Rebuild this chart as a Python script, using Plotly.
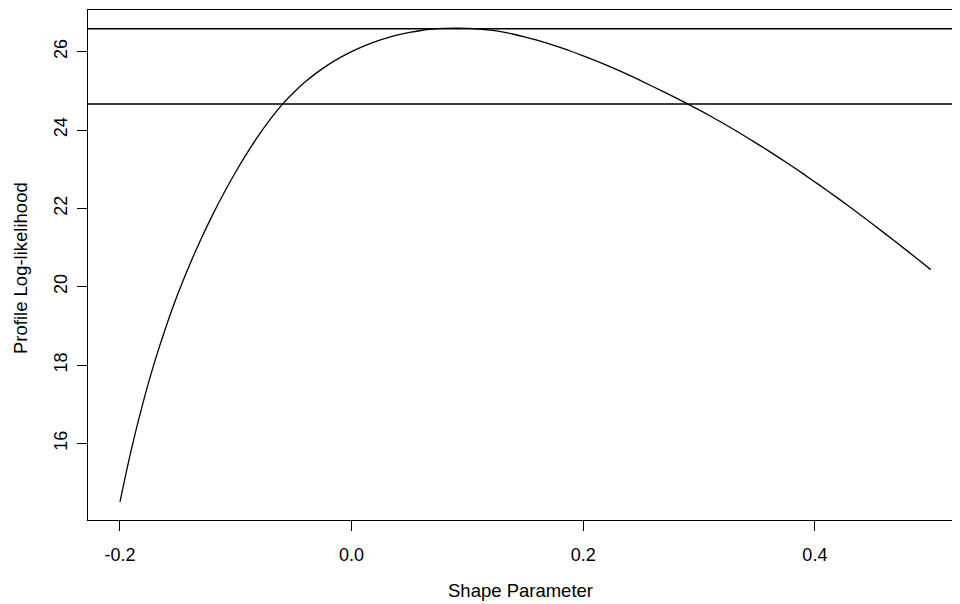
import plotly.graph_objects as go

# Profile log-likelihood curve
shape = [-0.20, -0.19, -0.18, -0.17, -0.16, -0.15, -0.14, -0.13, -0.12, -0.11,
         -0.10, -0.09, -0.08, -0.07, -0.06, -0.05, -0.04, -0.03, -0.02, -0.01,
         0.00, 0.01, 0.02, 0.03, 0.04, 0.05, 0.06, 0.07, 0.08, 0.09,
         0.10, 0.11, 0.12, 0.13, 0.14, 0.15, 0.16, 0.17, 0.18, 0.19,
         0.20, 0.21, 0.22, 0.23, 0.24, 0.25, 0.26, 0.27, 0.28, 0.29,
         0.30, 0.31, 0.32, 0.33, 0.34, 0.35, 0.36, 0.37, 0.38, 0.39,
         0.40, 0.41, 0.42, 0.43, 0.44, 0.45, 0.46, 0.47, 0.48, 0.49, 0.50]
loglik = [14.51, 15.87, 17.05, 18.09, 19.00, 19.82, 20.55, 21.22, 21.835, 22.405,
          22.935, 23.425, 23.875, 24.285, 24.65, 24.96, 25.23, 25.465, 25.67, 25.848,
          26.003, 26.137, 26.252, 26.349, 26.429, 26.493, 26.541, 26.574, 26.593, 26.598,
          26.594, 26.579, 26.548, 26.503, 26.445, 26.374, 26.294, 26.205, 26.108, 26.005,
          25.895, 25.779, 25.657, 25.529, 25.395, 25.255, 25.112, 24.967, 24.820, 24.669,
          24.513, 24.352, 24.185, 24.013, 23.835, 23.653, 23.467, 23.276, 23.080, 22.880,
          22.676, 22.468, 22.256, 22.040, 21.820, 21.596, 21.369, 21.140, 20.909, 20.674, 20.437]

# Reference lines: maximum and max - qchisq(0.95,1)/2
hlines = [26.585, 24.665]

x_ticks = [-0.2, 0.0, 0.2, 0.4]
x_ticktext = ["-0.2", "0.0", "0.2", "0.4"]
y_ticks = [16, 18, 20, 22, 24, 26]
y_ticktext = ["16", "18", "20", "22", "24", "26"]

FONT = "Liberation Sans, Arial, sans-serif"

fig = go.Figure()
fig.add_trace(go.Scatter(x=shape, y=loglik, mode="lines",
                         line=dict(color="black", width=1.3, shape="spline", smoothing=1.0),
                         showlegend=False, hoverinfo="skip"))

for h in hlines:
    fig.add_shape(type="line", xref="paper", yref="y", x0=0, x1=1, y0=h, y1=h,
                  line=dict(color="black", width=1.3))

fig.add_annotation(text="Shape Parameter", xref="paper", yref="paper",
                   x=(520 - 88) / 872, y=(520 - 590) / 510, xanchor="center", yanchor="middle",
                   showarrow=False, font=dict(size=18.5))
fig.add_annotation(text="Profile Log-likelihood", xref="paper", yref="paper",
                   x=(20 - 88) / 872, y=(520 - 268) / 510, xanchor="center", yanchor="middle",
                   textangle=-90, showarrow=False, font=dict(size=18.5))

# page body has an 8px margin, so the figure is offset by (8, 8)
fig.update_layout(
    width=952, height=596,
    margin=dict(l=80, r=0, t=2, b=84),
    paper_bgcolor="white", plot_bgcolor="white",
    font=dict(family=FONT, size=18, color="black"),
    xaxis=dict(range=[-0.2276, 0.5253], tickvals=x_ticks, ticktext=x_ticktext,
               ticks="outside", ticklen=10, tickwidth=1, tickcolor="black",
               ticklabelstandoff=8,
               showline=True, linecolor="black", linewidth=1.3, mirror=True,
               showgrid=False, zeroline=False, automargin=False),
    yaxis=dict(range=[14.046, 27.064], tickvals=y_ticks, ticktext=y_ticktext,
               ticks="outside", ticklen=10, tickwidth=1, tickcolor="black",
               tickangle=-90, ticklabelstandoff=3,
               showline=True, linecolor="black", linewidth=1.3, mirror=False,
               showgrid=False, zeroline=False, automargin=False),
)

fig.write_html("out.html")
